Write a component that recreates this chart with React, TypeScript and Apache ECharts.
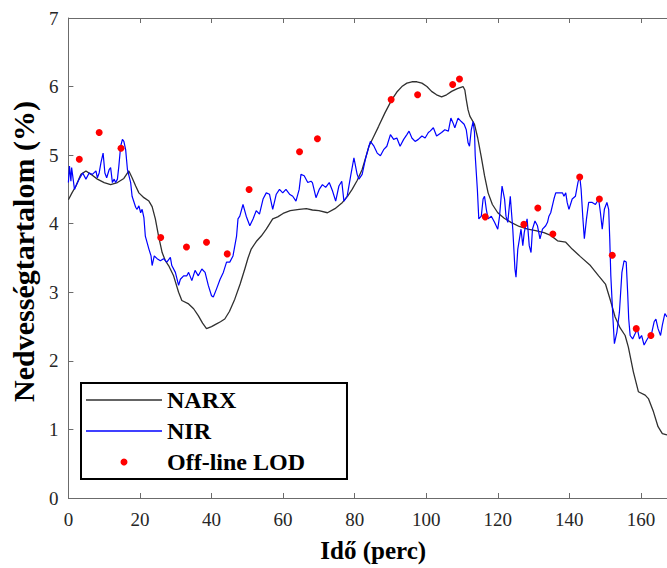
import React, { useEffect, useRef } from "react";
import * as echarts from "echarts";

// NARX model output: [time (perc), moisture (%)]
const narxPoints: number[][] = [
  [0, 4.35], [1, 4.45], [2.1, 4.55], [3.5, 4.72], [4.9, 4.77], [6.3, 4.72], [8.1, 4.65], [10, 4.6],
  [11.8, 4.57], [13.7, 4.6], [15.5, 4.66], [16.9, 4.77], [17.8, 4.67], [18.8, 4.55], [19.7, 4.45],
  [21.1, 4.38], [22.5, 4.33], [23.4, 4.25], [24.3, 4.07], [25.2, 3.82], [26.2, 3.58], [27.1, 3.46],
  [28, 3.39], [29.4, 3.24], [30.8, 3.0], [31.7, 2.88], [33.6, 2.83], [35, 2.76], [36.3, 2.66],
  [37.5, 2.55], [38.6, 2.47], [40, 2.5], [41.4, 2.54], [42.5, 2.57], [43.7, 2.61], [45, 2.72],
  [46.5, 2.9], [48, 3.12], [49.3, 3.34], [50.2, 3.5], [51.1, 3.63], [52.5, 3.74], [53.9, 3.82],
  [55.3, 3.92], [57.1, 4.07], [58.5, 4.1], [60, 4.15], [62, 4.19], [64.5, 4.21], [66.5, 4.22],
  [68.2, 4.2], [70, 4.19], [72.4, 4.16], [74.5, 4.22], [76.6, 4.31], [78, 4.4], [79.3, 4.5],
  [80.7, 4.63], [82.1, 4.79], [83, 4.95], [84, 5.13], [85.4, 5.28], [86.7, 5.42], [88.5, 5.62],
  [90.4, 5.81], [91.8, 5.92], [93.2, 6.0], [94.6, 6.05], [96, 6.07], [97.4, 6.07], [98.8, 6.05],
  [100.2, 6.0], [101.5, 5.93], [102.9, 5.88], [104.3, 5.85], [105.7, 5.88], [107.1, 5.93],
  [108.7, 5.97], [110.3, 6.0], [110.8, 5.95], [111.2, 5.81], [111.7, 5.66], [112.2, 5.57],
  [113.5, 5.45], [114.4, 5.25], [115.4, 4.97], [116.3, 4.7], [117.3, 4.45], [118.5, 4.28],
  [120, 4.16], [121.8, 4.08], [123.7, 4.02], [126, 3.96], [128.4, 3.92], [130.6, 3.9], [132.9, 3.87],
  [134.8, 3.83], [136.7, 3.75], [139, 3.73], [140.8, 3.63], [143.1, 3.52], [145.9, 3.39],
  [148.2, 3.24], [150.1, 3.12], [151.5, 2.88], [152.8, 2.64], [154.2, 2.48], [155.6, 2.37],
  [156.5, 2.2], [157.9, 1.84], [159.3, 1.55], [161.2, 1.5], [162.1, 1.45], [163.5, 1.26],
  [164.8, 1.04], [166, 0.94], [167.3, 0.92],
];

// NIR measurement: [time (perc), moisture (%)]
const nirPoints: number[][] = [
  [0, 4.6], [0.3, 4.84], [0.7, 4.62], [0.9, 4.82], [1.7, 4.5], [2.1, 4.55], [3, 4.65], [4, 4.74],
  [4.9, 4.65], [5.8, 4.74], [6.7, 4.72], [7.7, 4.77], [8.1, 4.67], [8.6, 4.74], [9.1, 4.89],
  [9.7, 5.03], [10.2, 4.74], [10.7, 4.67], [11.4, 4.79], [11.8, 4.82], [12.3, 4.6], [12.8, 4.65],
  [13.2, 4.6], [13.7, 4.65], [14.1, 4.84], [14.6, 5.13], [15.1, 5.23], [15.5, 5.2], [16, 5.08],
  [16.5, 4.79], [17.4, 4.6], [17.8, 4.4], [18.8, 4.24], [19.2, 4.21], [19.7, 4.26], [20.2, 4.16],
  [20.6, 4.21], [21.1, 4.09], [21.5, 3.82], [22.5, 3.63], [23.1, 3.53], [23.4, 3.39], [24, 3.53],
  [24.8, 3.49], [25.7, 3.46], [26.6, 3.49], [27.5, 3.44], [28.5, 3.51], [28.9, 3.39], [29.9, 3.29],
  [30.8, 3.1], [31.3, 3.19], [32.2, 3.24], [33.1, 3.24], [33.6, 3.29], [34.5, 3.17], [35.4, 3.32],
  [36.3, 3.24], [37.3, 3.34], [38.2, 3.29], [39.1, 3.1], [40, 2.95], [40.5, 2.93], [41.4, 3.05],
  [42.4, 3.19], [43.3, 3.29], [44.2, 3.44], [45.1, 3.44], [46, 3.53], [47, 3.82], [47.4, 4.07],
  [47.9, 4.11], [48.8, 4.28], [49.7, 4.11], [50.7, 3.97], [51.6, 4.07], [52.5, 4.19], [53.4, 4.14],
  [54.4, 4.36], [55.3, 4.45], [56.2, 4.43], [57.1, 4.21], [58.1, 4.43], [59, 4.5], [59.9, 4.45],
  [60.8, 4.5], [61.8, 4.43], [62.7, 4.4], [63.6, 4.33], [64.5, 4.5], [65, 4.72], [65.9, 4.7],
  [66.9, 4.6], [67.8, 4.62], [68.2, 4.6], [69.2, 4.38], [70.1, 4.5], [71, 4.57], [71.9, 4.53],
  [72.9, 4.6], [73.8, 4.48], [74.7, 4.33], [75.6, 4.55], [76.4, 4.62], [77, 4.33], [77.9, 4.4],
  [78.9, 4.7], [79.8, 4.96], [80.7, 4.72], [81.2, 4.65], [82.1, 4.72], [83, 4.94], [84, 5.13],
  [84.4, 5.2], [85.4, 5.13], [86.3, 5.03], [87.2, 4.99], [88.1, 5.08], [89, 5.13], [90, 5.3],
  [90.9, 5.23], [91.8, 5.25], [92.7, 5.13], [93.7, 5.23], [94.6, 5.3], [95.2, 5.35], [96, 5.25],
  [96.9, 5.2], [97.8, 5.23], [98.8, 5.28], [99.7, 5.25], [100.6, 5.33], [101.1, 5.35], [102, 5.4],
  [102.9, 5.28], [104.3, 5.33], [105.2, 5.37], [106.2, 5.35], [106.9, 5.54], [107.5, 5.47],
  [108, 5.4], [108.9, 5.54], [109.8, 5.49], [110.6, 5.45], [111.2, 5.37], [111.7, 5.18],
  [112.1, 5.13], [112.6, 5.37], [113.1, 5.49], [113.5, 5.33], [113.7, 4.99], [114.3, 4.5],
  [114.7, 4.07], [115.4, 4.11], [115.9, 4.36], [116.3, 4.4], [116.8, 4.21], [117.3, 4.07],
  [118.2, 4.11], [119.1, 4.02], [120, 3.92], [120.5, 4.11], [121.2, 4.55], [121.9, 4.36],
  [122.3, 4.11], [122.8, 4.02], [123.5, 4.4], [124.2, 3.92], [124.8, 3.34], [125.1, 3.22],
  [125.6, 3.63], [126.5, 3.92], [127, 3.68], [127.4, 3.87], [128.2, 4.07], [128.8, 3.68],
  [129.3, 3.58], [129.7, 3.92], [130.4, 4.04], [131.1, 3.97], [131.8, 3.78], [132.5, 3.92],
  [133.4, 3.97], [133.9, 4.02], [134.3, 4.11], [134.8, 4.16], [135.7, 4.36], [136.2, 4.45],
  [137.1, 4.45], [138.1, 4.45], [138.5, 4.4], [139, 4.45], [139.4, 4.31], [139.9, 4.21],
  [140.8, 4.36], [141.7, 4.4], [142.4, 4.6], [142.9, 4.7], [143.3, 4.5], [143.8, 4.07],
  [144.2, 3.78], [144.8, 4.07], [145.4, 4.31], [146.4, 4.31], [147.3, 4.28], [148.2, 4.36],
  [148.7, 4.16], [149.2, 3.92], [149.8, 4.21], [150.5, 4.31], [151, 4.21], [151.3, 3.78],
  [151.6, 3.24], [152.2, 2.61], [152.6, 2.25], [153.3, 2.42], [154, 2.71], [154.7, 3.29],
  [155.3, 3.46], [155.9, 3.44], [156.3, 3.0], [156.6, 2.61], [157, 2.37], [157.7, 2.32],
  [158.4, 2.4], [159, 2.47], [159.6, 2.32], [160.2, 2.37], [160.9, 2.23], [161.6, 2.3],
  [162.4, 2.37], [163, 2.4], [163.7, 2.57], [164.2, 2.61], [164.8, 2.47], [165.5, 2.37],
  [166, 2.52], [166.7, 2.69], [167.3, 2.64],
];

// Off-line LOD laboratory values: [time (perc), moisture (%)]
const lodPoints: number[][] = [
  [3.05, 4.94], [8.6, 5.33], [14.7, 5.1], [25.8, 3.8], [33, 3.66], [38.6, 3.73], [44.4, 3.56],
  [50.5, 4.5], [64.6, 5.05], [69.6, 5.24], [90.2, 5.81], [97.6, 5.88], [107.4, 6.03],
  [109.3, 6.11], [116.5, 4.1], [127.3, 3.99], [131.2, 4.23], [135.4, 3.85], [142.9, 4.68],
  [148.4, 4.36], [152, 3.54], [158.7, 2.47], [162.8, 2.37],
];

const seriesNames = ["NARX", "NIR", "Off-line LOD"];
const xTitle = "Idő (perc)";
const yTitle = "Nedvességtartalom (%)";

const FONT = '"Liberation Serif", "Times New Roman", serif';
const AXIS_COLOR = "#6b6b6b";
const LABEL_COLOR = "#262626";
const LINE_ICON = "path://M0,0L76,0L76,1.4L0,1.4Z";

export default function App() {
  const ref = useRef<HTMLDivElement>(null);

  useEffect(() => {
    if (!ref.current) return;
    const chart = echarts.init(ref.current, undefined, { renderer: "svg" });
    const xCommon = {
      type: "value" as const,
      min: 0,
      max: 167.3,
      interval: 20,
      splitLine: { show: false },
      axisLine: { show: true, onZero: false, lineStyle: { color: AXIS_COLOR, width: 1 } },
      axisTick: { show: true, inside: true, length: 5, lineStyle: { color: AXIS_COLOR } },
    };
    chart.setOption({
      animation: false,
      backgroundColor: "#ffffff",
      grid: { left: 64, top: 18, right: 0, bottom: 68, containLabel: false },
      legend: {
        orient: "vertical",
        left: 81,
        top: 383,
        itemWidth: 76,
        itemHeight: 7,
        itemGap: 7,
        padding: [5, 42, 5, 5],
        backgroundColor: "#ffffff",
        borderColor: "#000000",
        borderWidth: 2,
        symbolKeepAspect: true,
        data: [
          { name: seriesNames[0], icon: LINE_ICON },
          { name: seriesNames[1], icon: LINE_ICON },
          { name: seriesNames[2], icon: "circle" },
        ],
        textStyle: { fontFamily: FONT, fontWeight: "bold", fontSize: 24, color: "#000" },
      },
      xAxis: [
        {
          ...xCommon,
          position: "bottom",
          axisLabel: {
            showMaxLabel: false,
            color: LABEL_COLOR,
            fontFamily: FONT,
            fontSize: 19,
            margin: 12,
          },
          name: xTitle,
          nameLocation: "middle",
          nameGap: 40,
          nameTextStyle: {
            fontFamily: FONT,
            fontWeight: "bold",
            fontSize: 25,
            color: "#000",
            padding: [0, 0, 0, 11],
          },
        },
        {
          ...xCommon,
          position: "top",
          axisLabel: { show: false },
        },
      ],
      yAxis: {
        type: "value",
        min: 0,
        max: 7,
        interval: 1,
        splitLine: { show: false },
        axisLine: { show: true, onZero: false, lineStyle: { color: AXIS_COLOR, width: 1 } },
        axisTick: { show: true, inside: true, length: 5, lineStyle: { color: AXIS_COLOR } },
        axisLabel: { color: LABEL_COLOR, fontFamily: FONT, fontSize: 19, margin: 10 },
        name: yTitle,
        nameLocation: "middle",
        nameGap: 24,
        nameRotate: 90,
        nameTextStyle: {
          fontFamily: FONT,
          fontWeight: "bold",
          fontSize: 30,
          color: "#000",
          padding: [0, 0, 0, 13],
        },
      },
      series: [
        {
          name: seriesNames[0],
          type: "line",
          data: narxPoints,
          symbol: "none",
          lineStyle: { color: "#303030", width: 1.3 },
          itemStyle: { color: "#303030" },
          z: 2,
        },
        {
          name: seriesNames[1],
          type: "line",
          data: nirPoints,
          symbol: "none",
          lineStyle: { color: "#0000ff", width: 1.2 },
          itemStyle: { color: "#0000ff" },
          z: 3,
        },
        {
          name: seriesNames[2],
          type: "scatter",
          data: lodPoints,
          symbol: "circle",
          symbolSize: 7,
          itemStyle: { color: "#ff0000", opacity: 1 },
          z: 4,
        },
      ],
    });
    return () => chart.dispose();
  }, []);

  return (
    <div
      ref={ref}
      style={{ position: "fixed", left: 0, top: 0, width: 667, height: 568, background: "#fff" }}
    />
  );
}
